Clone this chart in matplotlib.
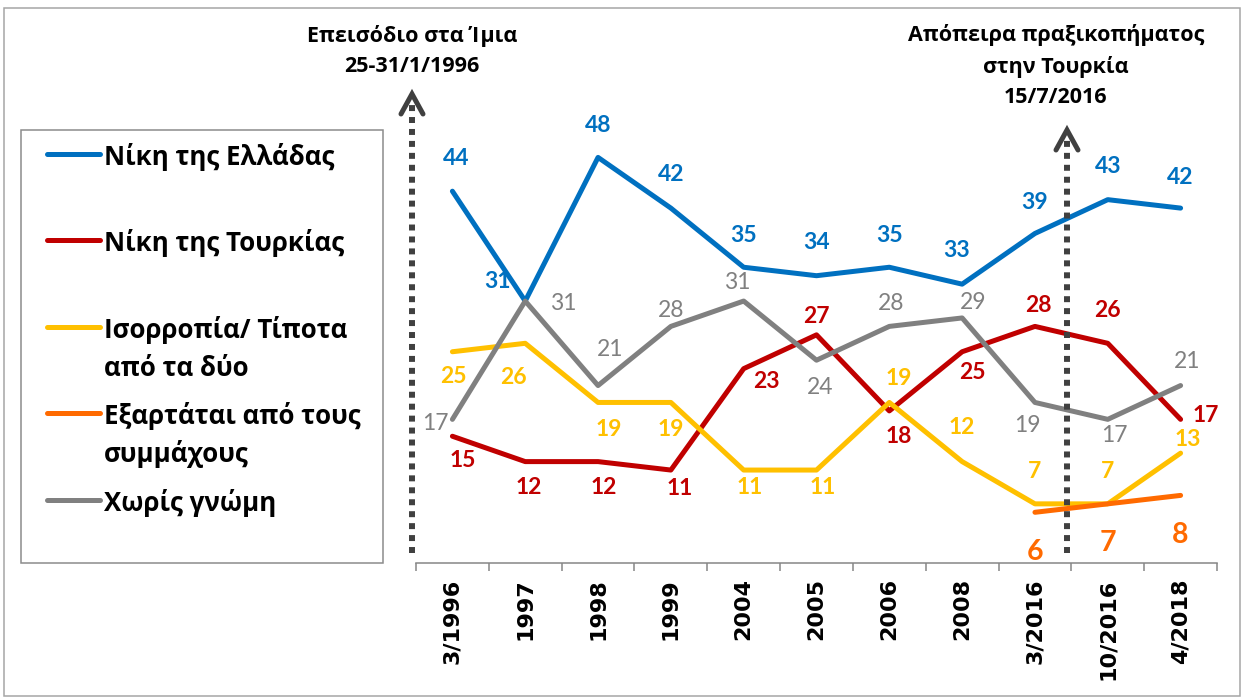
import matplotlib
matplotlib.use('Agg')
import matplotlib.pyplot as plt
from matplotlib.lines import Line2D
from matplotlib.patches import Rectangle

# ---------------- data ----------------
categories = ['3/1996', '1997', '1998', '1999', '2004', '2005', '2006',
              '2008', '3/2016', '10/2016', '4/2018']
greece_win = [44, 31, 48, 42, 35, 34, 35, 33, 39, 43, 42]
turkey_win = [15, 12, 12, 11, 23, 27, 18, 25, 28, 26, 17]
balance = [25, 26, 19, 19, 11, 11, 19, 12, 7, 7, 13]
allies_idx = [8, 9, 10]
allies = [6, 7, 8]
no_opinion = [17, 31, 21, 28, 31, 24, 28, 29, 19, 17, 21]

legend_labels = ['Νίκη της Ελλάδας', 'Νίκη της Τουρκίας',
                 'Ισορροπία/ Τίποτα\nαπό τα δύο',
                 'Εξαρτάται από τους\nσυμμάχους', 'Χωρίς γνώμη']
note_left = 'Επεισόδιο στα Ίμια\n25-31/1/1996'
note_right = 'Απόπειρα πραξικοπήματος\nστην Τουρκία\n15/7/2016'

# ---------------- style ----------------
C_BLUE, C_RED, C_YEL, C_ORA, C_GRAY = '#0070C0', '#C00000', '#FFC000', '#FF6A00', '#808080'
W, H = 1251, 697
NUM_FONT = ['Lato', 'DejaVu Sans']
GR_FONT = ['Open Sans', 'DejaVu Sans']

fig = plt.figure(figsize=(W / 100, H / 100), dpi=100)


def fx(x):
    return x / W


def fy(y):
    return 1 - y / H


ax_top, ax_bot = 140.5, 563
ax = fig.add_axes([fx(416), fy(ax_bot), (1217 - 416) / W, (ax_bot - ax_top) / H])
ax.set_xlim(-0.5, len(categories) - 0.5)
ax.set_ylim(0, 50)

xs = list(range(len(categories)))
LW = 3.6
series = [
    (xs, greece_win, C_BLUE),
    (xs, turkey_win, C_RED),
    (xs, balance, C_YEL),
    (allies_idx, allies, C_ORA),
    (xs, no_opinion, C_GRAY),
]
for sx, sy, c in series:
    ax.plot(sx, sy, color=c, lw=LW, solid_joinstyle='round', solid_capstyle='round',
            clip_on=False, zorder=3)

# data labels: offsets in pixels (dx, dy up)
off_blue = [(4, 33), (-28, 20), (0, 32), (0, 34), (0, 32), (0, 33), (0, 32), (-6, 34), (0, 31), (0, 33), (0, 31)]
off_red = [(10, -24), (4, -26), (6, -26), (9, -18), (23, -13), (0, 18), (9, -26), (10, -21), (3, 21), (0, 33), (25, 4)]
off_yel = [(1, -25), (-12, -34), (11, -27), (0, -27), (6, -17), (6, -17), (9, 24), (0, 34), (0, 32), (0, 32), (7, 14)]
off_gray = [(-17, -4), (38, -2), (12, 36), (0, 16), (-6, 19), (4, -27), (2, 23), (11, 15), (-8, -23), (7, -16), (7, 24)]
off_ora = [(0, -40), (0, -39), (0, -40)]

NUM_SIZE = 16.5


def label(sx, sy, offs, color, weight='bold', size=NUM_SIZE):
    for x, v, (dx, dy) in zip(sx, sy, offs):
        ax.annotate(str(v), xy=(x, v), xytext=(dx, dy), textcoords='offset pixels',
                    ha='center', va='center', color=color, fontsize=size,
                    fontweight=weight, family=NUM_FONT, annotation_clip=False, zorder=4)


label(xs, greece_win, off_blue, C_BLUE)
label(xs, turkey_win, off_red, C_RED)
label(xs, balance, off_yel, C_YEL)
label(xs, no_opinion, off_gray, C_GRAY, weight='normal')
label(allies_idx, allies, off_ora, C_ORA, size=20.5)

# axes styling
for s in ['left', 'right', 'top']:
    ax.spines[s].set_visible(False)
ax.spines['bottom'].set_color('#868686')
ax.spines['bottom'].set_linewidth(1.1)
ax.set_yticks([])
ax.set_xticks(xs)
ax.set_xticklabels(categories, rotation=90, fontsize=16, fontweight='bold',
                   family=['DejaVu Sans'])
ax.set_xticks([i - 0.5 for i in range(len(categories) + 1)], minor=True)
ax.tick_params(axis='x', which='major', length=0, pad=11)
ax.tick_params(axis='x', which='minor', length=5.8, width=1.1, color='#868686', direction='out')
ax.patch.set_visible(False)

# outer border and legend box
fig.add_artist(Rectangle((fx(4), fy(696)), (1240 - 4) / W, (696 - 8) / H, transform=fig.transFigure,
                         fill=False, edgecolor='#A6A6A6', lw=1.1))
fig.add_artist(Rectangle((fx(21), fy(563)), (383 - 21) / W, (563 - 130) / H, transform=fig.transFigure,
                         fill=False, edgecolor='#8C8C8C', lw=1.1))

legend_colors = [C_BLUE, C_RED, C_YEL, C_ORA, C_GRAY]
legend_y = [154, 240, 327, 413, 500]
LEG_SIZE = 18.6
for lab, c, y in zip(legend_labels, legend_colors, legend_y):
    fig.add_artist(Line2D([fx(47), fx(100)], [fy(y), fy(y)], transform=fig.transFigure,
                          color=c, lw=LW, solid_capstyle='round'))
    for k, part in enumerate(lab.split('\n')):
        fig.text(fx(104), fy(y + 38 * k), part, ha='left', va='center_baseline',
                 fontsize=LEG_SIZE, fontweight='bold', family=GR_FONT)

# event arrows
ARROW_C = '#404040'


def event_arrow(x, y_tip, y_bot):
    fig.add_artist(Line2D([fx(x), fx(x)], [fy(y_bot), fy(y_tip + 8)], transform=fig.transFigure,
                          color=ARROW_C, lw=4.3, linestyle=(0, (1, 1)), dash_capstyle='butt'))
    fig.add_artist(Line2D([fx(x - 11), fx(x), fx(x + 11)], [fy(y_tip + 20), fy(y_tip), fy(y_tip + 20)],
                          transform=fig.transFigure, color=ARROW_C, lw=3.6,
                          solid_capstyle='round', solid_joinstyle='miter'))


event_arrow(412, 94, 553)
event_arrow(1067, 130, 553)

NOTE_SIZE = 15.5
fig.text(fx(412), fy(51), note_left, ha='center', va='center', fontsize=NOTE_SIZE,
         fontweight='bold', family=GR_FONT, linespacing=1.55)
fig.text(fx(1056), fy(66), note_right, ha='center', va='center', fontsize=NOTE_SIZE,
         fontweight='bold', family=GR_FONT, linespacing=1.55)

fig.savefig('out.png', dpi=100)
